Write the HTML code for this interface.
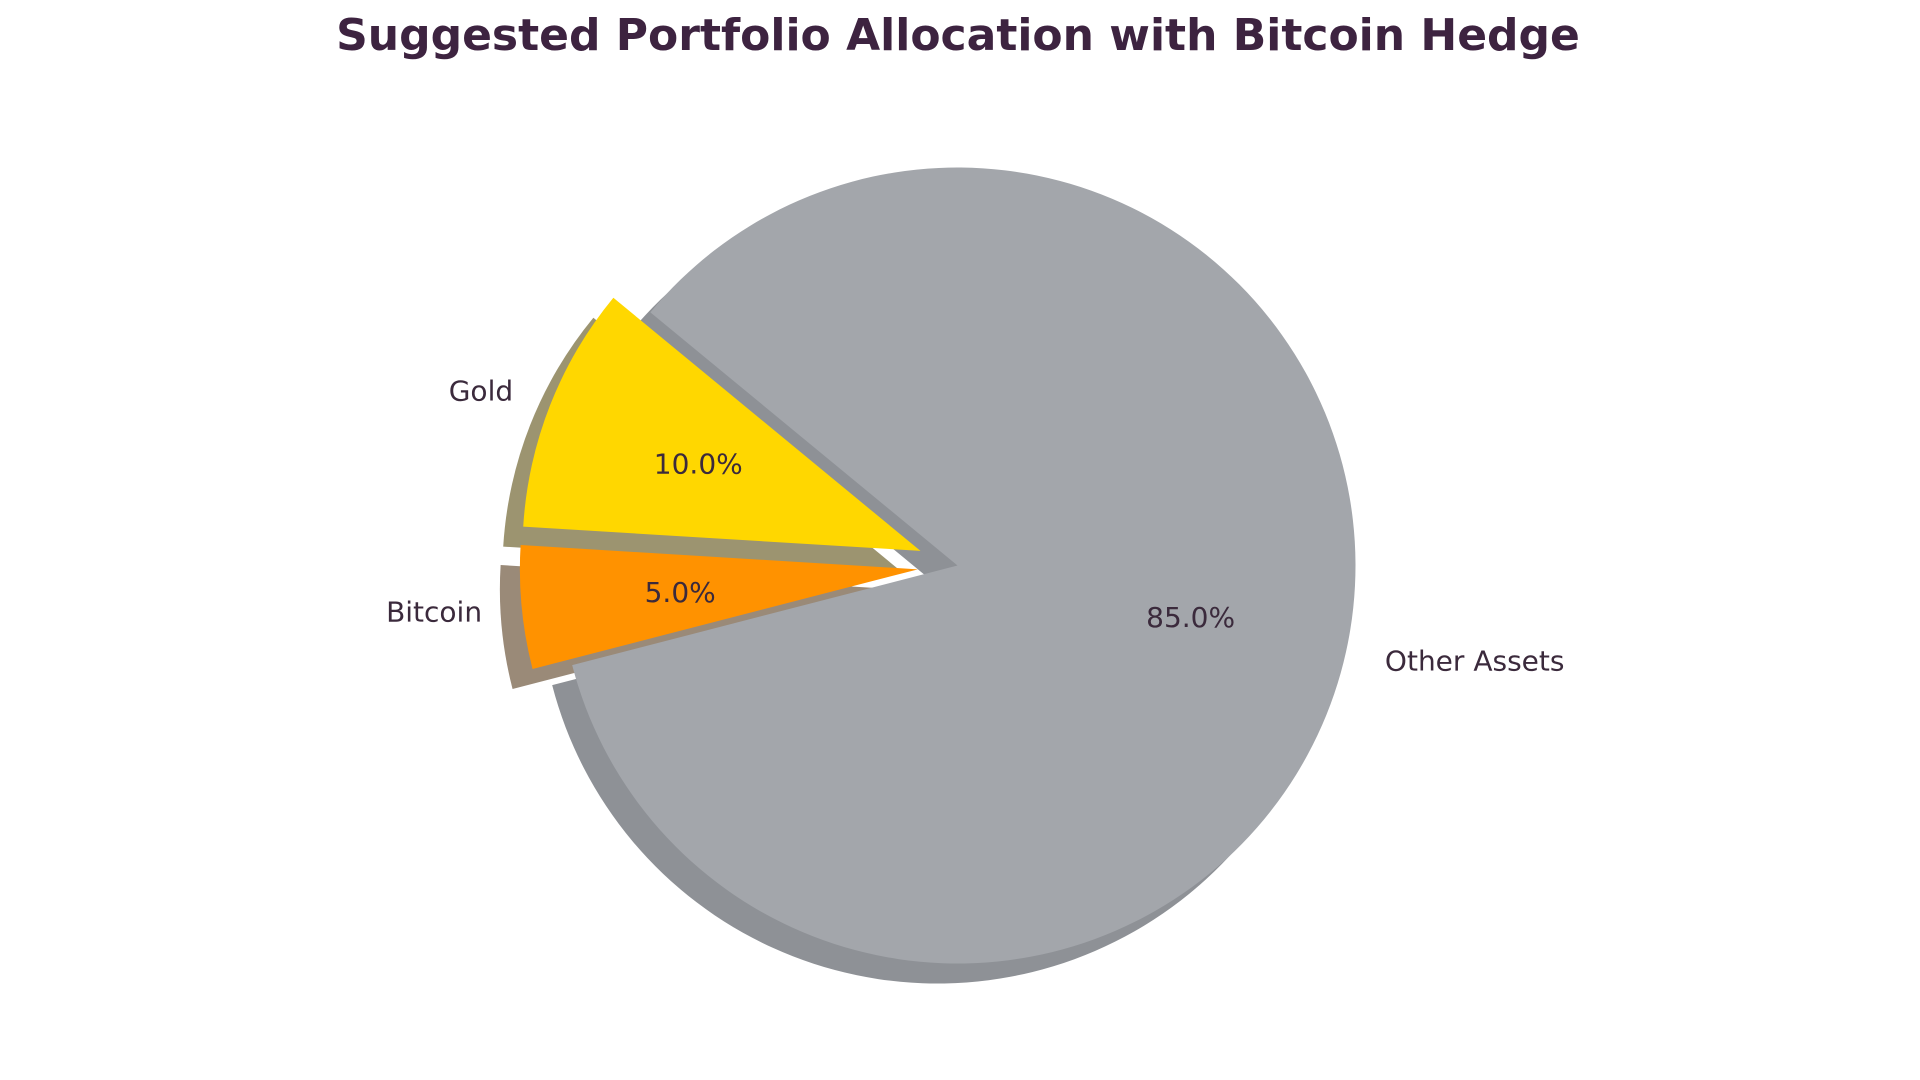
<!DOCTYPE html>
<html><head><meta charset="utf-8"><style>
html,body{margin:0;padding:0;background:#fff;}
svg{display:block;font-family:"DejaVu Sans","Liberation Sans",sans-serif;}
</style></head><body>
<svg id="chart" width="1920" height="1080" viewBox="0 0 1920 1080">
<text x="958" y="50" text-anchor="middle" font-size="44" font-weight="bold" fill="#3d2340">Suggested Portfolio Allocation with Bitcoin Hedge</text>
<g id="shadows"></g><g id="slices"></g><g id="labels"></g>
</svg>
<script>
const categories = ["Gold", "Bitcoin", "Other Assets"];
const values = [10, 5, 85];
const explode = [0.1, 0.1, 0];
const colors = ["#FFD700", "#FF9200", "#A3A6AB"];
const shadowColors = ["#9c9470", "#9a8a78", "#8e9196"];
const startAngle = 140.5;
const cx = 957.5, cy = 565.5, R = 398;
const ns = "http://www.w3.org/2000/svg";
const total = values.reduce((a,b)=>a+b,0);
function pt(x,y,r,deg){const a=deg*Math.PI/180;return [x+r*Math.cos(a), y-r*Math.sin(a)];}
function wedge(x,y,a0,a1){
  const p0=pt(x,y,R,a0), p1=pt(x,y,R,a1);
  const large=(a1-a0)>180?1:0;
  return `M${x},${y} L${p0[0]},${p0[1]} A${R},${R} 0 ${large} 0 ${p1[0]},${p1[1]} Z`;
}
let ang = startAngle;
const sh=document.getElementById('shadows'), sl=document.getElementById('slices'), lb=document.getElementById('labels');
values.forEach((v,i)=>{
  const a0=ang, a1=ang+v/total*360, mid=(a0+a1)/2; ang=a1;
  const [ox,oy]=pt(cx,cy,explode[i]*R,mid);
  const s=document.createElementNS(ns,'path');
  s.setAttribute('d',wedge(ox-20,oy+20,a0,a1));
  s.setAttribute('fill',shadowColors[i]);
  
  
  sh.appendChild(s);
  const p=document.createElementNS(ns,'path');
  p.setAttribute('d',wedge(ox,oy,a0,a1));
  p.setAttribute('fill',colors[i]);
  
  
  sl.appendChild(p);
  const [lx,ly]=pt(ox,oy,1.1*R,mid);
  const t=document.createElementNS(ns,'text');
  t.setAttribute('x',lx);t.setAttribute('y',ly+10);
  t.setAttribute('text-anchor',Math.cos(mid*Math.PI/180)<0?'end':'start');
  t.setAttribute('font-size','28');t.setAttribute('fill','#3b2a3c');
  t.textContent=categories[i];
  
  
  lb.appendChild(t);
  const [px,py]=pt(ox,oy,0.6*R,mid);
  const q=document.createElementNS(ns,'text');
  q.setAttribute('x',px);q.setAttribute('y',py+10);
  q.setAttribute('text-anchor','middle');
  q.setAttribute('font-size','28');q.setAttribute('fill','#3b2a3c');
  q.textContent=(v/total*100).toFixed(1)+'%';
  
  
  lb.appendChild(q);
});
</script>
</body></html>
